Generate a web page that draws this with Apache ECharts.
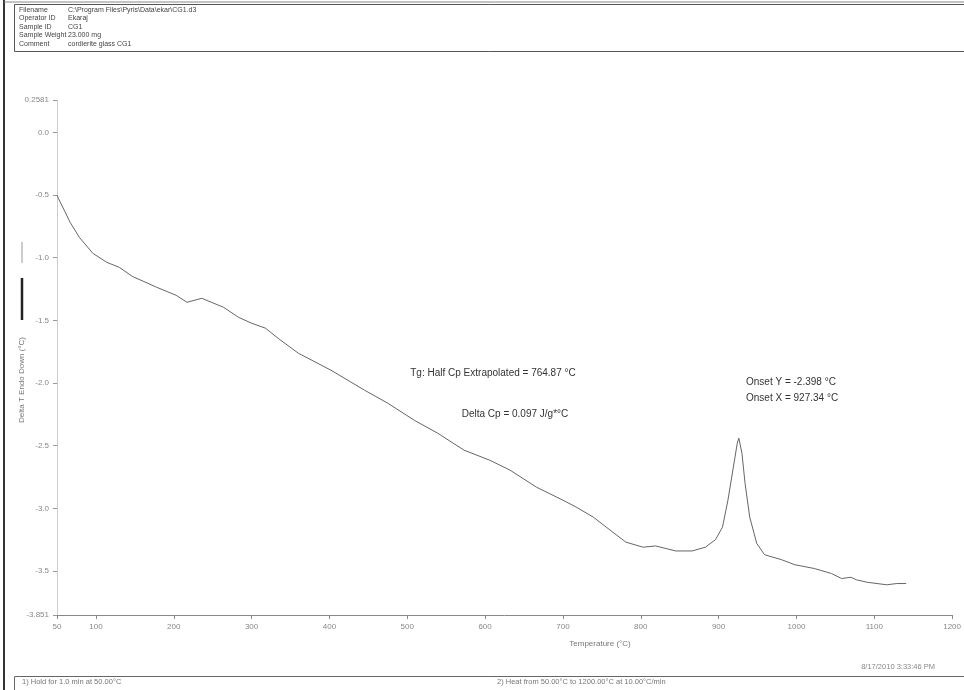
<!DOCTYPE html>
<html>
<head>
<meta charset="utf-8">
<title>CG1 DTA</title>
<script src="https://cdn.jsdelivr.net/npm/echarts@6/dist/echarts.min.js"></script>
<style>
  html, body { margin: 0; padding: 0; background: #fff; }
  #chart { width: 964px; height: 690px; }
</style>
</head>
<body>
<div id="chart"></div>
<script>
// Heating run of cordierite glass CG1: temperature (°C) vs Delta T (°C)
const temperature = [50, 52, 60, 67, 79, 96, 114, 130, 147, 178, 203, 217, 236, 264, 283, 300, 318, 334,
  360, 402, 445, 475, 509, 539, 573, 606, 632, 666, 700, 717, 739, 764, 781, 803, 819, 845, 866,
  883, 896, 905, 912, 919, 924, 926, 930, 934, 940, 949, 959, 981, 998, 1023, 1045, 1058, 1070,
  1077, 1091, 1116, 1129, 1141];
const deltaT = [-0.50, -0.53, -0.63, -0.72, -0.84, -0.965, -1.037, -1.077, -1.15, -1.236, -1.30, -1.356,
  -1.324, -1.396, -1.475, -1.523, -1.563, -1.643, -1.762, -1.898, -2.057, -2.161, -2.297, -2.40,
  -2.536, -2.616, -2.695, -2.831, -2.935, -2.99, -3.07, -3.19, -3.27, -3.31, -3.30, -3.34, -3.34,
  -3.31, -3.25, -3.15, -2.935, -2.67, -2.48, -2.44, -2.56, -2.80, -3.07, -3.28, -3.37, -3.41,
  -3.45, -3.48, -3.52, -3.56, -3.55, -3.57, -3.59, -3.61, -3.60, -3.60];

// Axis ticks
const xTicks = [50, 100, 200, 300, 400, 500, 600, 700, 800, 900, 1000, 1100, 1200];
const yTicks = [0.2581, 0.0, -0.5, -1.0, -1.5, -2.0, -2.5, -3.0, -3.5, -3.851];

// Header / footer text
const headerLabels = ['Filename', 'Operator ID', 'Sample ID', 'Sample Weight', 'Comment'];
const headerValues = ['C:\\Program Files\\Pyris\\Data\\ekar\\CG1.d3', 'Ekaraj', 'CG1', '23.000 mg', 'cordierite glass CG1'];
const methodSteps = ['1) Hold for 1.0 min at 50.00°C', '2) Heat from 50.00°C to 1200.00°C at 10.00°C/min'];
const timestamp = '8/17/2010 3:33:46 PM';
const annotations = [
  'Tg: Half Cp Extrapolated = 764.87 °C',
  'Delta Cp = 0.097 J/g*°C',
  'Onset Y = -2.398 °C',
  'Onset X = 927.34 °C'
];

const FONT = '"Liberation Sans", Arial, sans-serif';
const chart = echarts.init(document.getElementById('chart'), null, { renderer: 'canvas' });

function fmtY(v) {
  if (Math.abs(v * 2 - Math.round(v * 2)) < 1e-9) return v.toFixed(1);
  return String(v);
}

const graphics = [];
// page frame
graphics.push({ type: 'line', shape: { x1: 4, y1: 0, x2: 4, y2: 690 }, style: { stroke: '#333', lineWidth: 2 } });
graphics.push({ type: 'line', shape: { x1: 4, y1: 2, x2: 964, y2: 2 }, style: { stroke: '#888', lineWidth: 1 } });
// header box
graphics.push({ type: 'rect', shape: { x: 14.5, y: 4.5, width: 960, height: 47 }, style: { fill: 'none', stroke: '#555', lineWidth: 1 } });
headerLabels.forEach((t, i) => {
  graphics.push({ type: 'text', x: 19, y: 10 + i * 8.5, style: { text: t, font: '7px ' + FONT, fill: '#444', textVerticalAlign: 'middle' } });
  graphics.push({ type: 'text', x: 68, y: 10 + i * 8.5, style: { text: headerValues[i], font: '7px ' + FONT, fill: '#444', textVerticalAlign: 'middle' } });
});
// footer box
graphics.push({ type: 'rect', shape: { x: 14.5, y: 676.5, width: 960, height: 14 }, style: { fill: 'none', stroke: '#666', lineWidth: 1 } });
graphics.push({ type: 'text', x: 22, y: 682, style: { text: methodSteps[0], font: '7.5px ' + FONT, fill: '#777', textVerticalAlign: 'middle' } });
graphics.push({ type: 'text', x: 497, y: 682, style: { text: methodSteps[1], font: '7.5px ' + FONT, fill: '#777', textVerticalAlign: 'middle' } });
graphics.push({ type: 'text', x: 935, y: 667, style: { text: timestamp, font: '7.5px ' + FONT, fill: '#888', textAlign: 'right', textVerticalAlign: 'middle' } });
// axis titles
graphics.push({ type: 'text', x: 600, y: 644, style: { text: 'Temperature (°C)', font: '8px ' + FONT, fill: '#777', textAlign: 'center', textVerticalAlign: 'middle' } });
graphics.push({ type: 'text', x: 22, y: 380, rotation: Math.PI / 2, style: { text: 'Delta T Endo Down (°C)', font: '8px ' + FONT, fill: '#777', textAlign: 'center', textVerticalAlign: 'middle' } });
// series key beside the y title
graphics.push({ type: 'line', shape: { x1: 22, y1: 242, x2: 22, y2: 263 }, style: { stroke: '#999', lineWidth: 1 } });
graphics.push({ type: 'line', shape: { x1: 22, y1: 278, x2: 22, y2: 320 }, style: { stroke: '#222', lineWidth: 2.5 } });
// analysis results
graphics.push({ type: 'text', x: 493, y: 373, style: { text: annotations[0], font: '10px ' + FONT, fill: '#333', textAlign: 'center', textVerticalAlign: 'middle' } });
graphics.push({ type: 'text', x: 515, y: 414, style: { text: annotations[1], font: '10px ' + FONT, fill: '#333', textAlign: 'center', textVerticalAlign: 'middle' } });
graphics.push({ type: 'text', x: 746, y: 382, style: { text: annotations[2], font: '10px ' + FONT, fill: '#333', textVerticalAlign: 'middle' } });
graphics.push({ type: 'text', x: 746, y: 398, style: { text: annotations[3], font: '10px ' + FONT, fill: '#333', textVerticalAlign: 'middle' } });

chart.setOption({
  animation: false,
  backgroundColor: '#fff',
  grid: { left: 57, right: 6, top: 100, bottom: 75 },
  xAxis: {
    type: 'value',
    min: 50,
    max: 1200,
    splitLine: { show: false },
    axisLine: { onZero: false, lineStyle: { color: '#888', width: 1 } },
    axisTick: { customValues: xTicks, length: 4, lineStyle: { color: '#888' } },
    axisLabel: { customValues: xTicks, margin: 8, color: '#888', fontSize: 8, fontFamily: FONT, formatter: v => String(v) }
  },
  yAxis: {
    type: 'value',
    min: -3.851,
    max: 0.2581,
    splitLine: { show: false },
    axisLine: { show: true, onZero: false, lineStyle: { color: '#ccc', width: 1 } },
    axisTick: { customValues: yTicks, length: 4, lineStyle: { color: '#999' } },
    axisLabel: { customValues: yTicks, margin: 8, color: '#888', fontSize: 8, fontFamily: FONT, formatter: fmtY }
  },
  series: [{
    type: 'line',
    data: temperature.map((t, i) => [t, deltaT[i]]),
    showSymbol: false,
    smooth: false,
    lineStyle: { color: '#666', width: 1 }
  }],
  graphic: graphics
});
</script>
</body>
</html>
